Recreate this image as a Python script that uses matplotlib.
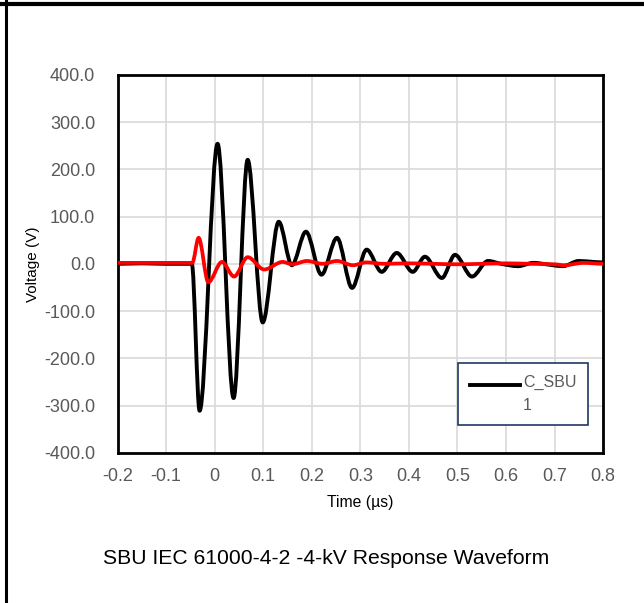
import numpy as np
import matplotlib
matplotlib.use("Agg")
import matplotlib.pyplot as plt
from matplotlib.path import Path
from matplotlib.patches import PathPatch
from matplotlib.lines import Line2D
from matplotlib.legend_handler import HandlerLine2D

plt.rcParams['font.family'] = ['Liberation Sans', 'DejaVu Sans']

# C_SBU1 channel (black), time in us, voltage in V
t_sbu1 = [-0.2, -0.15, -0.10, -0.06, -0.047, -0.031, 0.006, 0.039, 0.068, 0.099,
          0.132, 0.159, 0.188, 0.220, 0.252, 0.283, 0.313, 0.344, 0.375, 0.408,
          0.433, 0.468, 0.495, 0.530, 0.563, 0.590, 0.625, 0.656, 0.690, 0.717,
          0.750, 0.780, 0.8]
v_sbu1 = [0, 1, 0, 0, 0, -311, 254, -284, 220, -124,
          89, -3, 68, -23, 55, -51, 30, -17, 23, -17,
          15, -30, 19, -27, 6, 0, -5, 2, -2, -5,
          6, 4, 3]

# second channel (red)
t_sbu2 = [-0.2, -0.10, -0.06, -0.046, -0.033, -0.013, 0.015, 0.040, 0.068, 0.102,
          0.140, 0.160, 0.190, 0.222, 0.252, 0.285, 0.312, 0.35, 0.40, 0.45,
          0.50, 0.55, 0.60, 0.65, 0.70, 0.72, 0.76, 0.8]
v_sbu2 = [2, 2, 2, 2, 55, -39, 4, -27, 14, -12,
          4, -1, 6, 0, 6, -3, 3, 0, 1, 0,
          -1, 0, 1, 0, -1, -3, 2, 0]

xticks = [-0.2, -0.1, 0, 0.1, 0.2, 0.3, 0.4, 0.5, 0.6, 0.7, 0.8]
xticklabels = ['-0.2', '-0.1', '0', '0.1', '0.2', '0.3', '0.4', '0.5', '0.6', '0.7', '0.8']
yticks = [-400, -300, -200, -100, 0, 100, 200, 300, 400]


def smooth_path(x, y):
    # smoothed line as cubic Bezier segments (monotone Hermite slopes)
    x = np.asarray(x, float)
    y = np.asarray(y, float)
    h = np.diff(x)
    d = np.diff(y) / h
    m = np.zeros_like(y)
    for i in range(1, len(y) - 1):
        if d[i - 1] * d[i] > 0:
            w1 = 2 * h[i] + h[i - 1]
            w2 = h[i] + 2 * h[i - 1]
            m[i] = (w1 + w2) / (w1 / d[i - 1] + w2 / d[i])
    verts = [(x[0], y[0])]
    codes = [Path.MOVETO]
    for i in range(len(h)):
        verts += [(x[i] + h[i] / 3, y[i] + m[i] * h[i] / 3),
                  (x[i + 1] - h[i] / 3, y[i + 1] - m[i + 1] * h[i] / 3),
                  (x[i + 1], y[i + 1])]
        codes += [Path.CURVE4] * 3
    return Path(verts, codes)


class FirstLineHandler(HandlerLine2D):
    # put the legend line next to the first line of a wrapped label
    def create_artists(self, legend, orig_handle, xdescent, ydescent,
                       width, height, fontsize, trans):
        arts = super().create_artists(legend, orig_handle, xdescent, ydescent,
                                      width, height, fontsize, trans)
        for a in arts:
            a.set_ydata(np.asarray(a.get_ydata()) + 0.6 * fontsize)
        return arts


fig = plt.figure(figsize=(6.44, 6.03), dpi=100)
ax = fig.add_axes([0.1825, 0.249, 0.754, 0.627])

ax.add_patch(PathPatch(smooth_path(t_sbu1, v_sbu1), fill=False, edgecolor='black',
                       lw=2.8, capstyle='round', joinstyle='round', zorder=3))
ax.add_patch(PathPatch(smooth_path(t_sbu2, v_sbu2), fill=False, edgecolor='#ff0000',
                       lw=2.7, capstyle='round', joinstyle='round', zorder=4))

ax.set_xlim(-0.2, 0.8)
ax.set_ylim(-400, 400)
ax.set_xticks(xticks)
ax.set_xticklabels(xticklabels)
ax.set_yticks(yticks)
ax.set_yticklabels(['%.1f' % v for v in yticks])
ax.tick_params(length=0, labelsize=13, labelcolor='#595959')
ax.tick_params(axis='x', pad=11)
ax.tick_params(axis='y', pad=16)
ax.grid(True, color='#d9d9d9', lw=1.2)
ax.set_axisbelow(True)
for s in ax.spines.values():
    s.set_color('black')
    s.set_linewidth(2)

ax.set_xlabel('Time (µs)', fontsize=11.3, labelpad=7)
ax.set_ylabel('Voltage (V)', fontsize=11, labelpad=3)

leg_line = Line2D([], [], color='black', lw=2.8)
leg = ax.legend([leg_line], ['C_SBU\n1'],
                handler_map={leg_line: FirstLineHandler()},
                loc='upper left', bbox_to_anchor=(0.7013, 0.238), borderaxespad=0,
                fontsize=11.5, handlelength=3.1, handletextpad=0.2, borderpad=0.75,
                fancybox=False, framealpha=1, edgecolor='#1f3864')
leg.get_frame().set_linewidth(1.2)
for txt in leg.get_texts():
    txt.set_color('#595959')
    txt.set_linespacing(1.65)

fig.text(0.506, 1 - 558 / 603, 'SBU IEC 61000-4-2 -4-kV Response Waveform',
         ha='center', va='center', fontsize=15.2)

# outer border on top and left
fig.add_artist(Line2D([0, 1], [1 - 3.5 / 603] * 2, transform=fig.transFigure,
                      color='black', lw=3))
fig.add_artist(Line2D([5.5 / 644] * 2, [0, 1], transform=fig.transFigure,
                      color='black', lw=2.2))

fig.savefig('out.png', dpi=100)
